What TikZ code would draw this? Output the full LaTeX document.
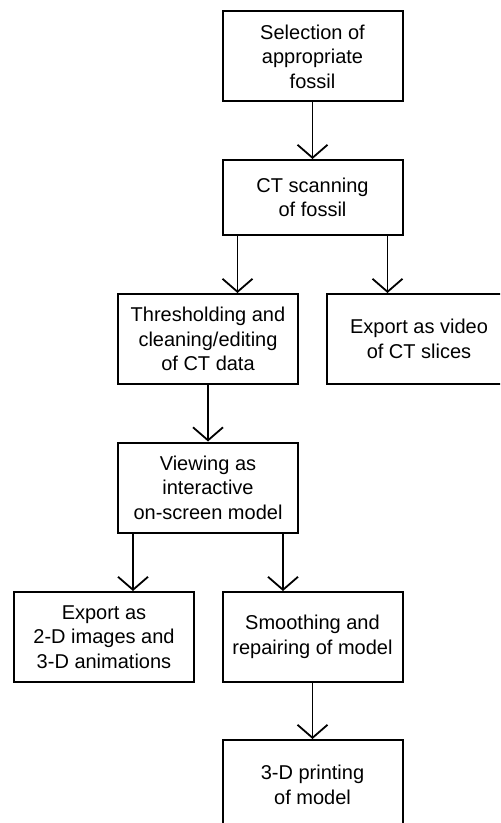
\documentclass[tikz,border=0pt]{standalone}
\usepackage{fontspec}
\setmainfont{Liberation Sans}
\usetikzlibrary{arrows.meta}

\begin{document}
\begin{tikzpicture}[>={Straight Barb[length=6.5pt,width=15pt]}]
    \tikzstyle{stage}=[rectangle,draw=black,line width=1pt,minimum width=90pt,minimum height=45pt,inner sep=0pt,align=center,font=\fontsize{10}{12.25}\selectfont]

    \useasboundingbox (0,0) rectangle (250pt,-411.5pt);
    \clip (0,0) rectangle (250pt,-411.5pt);

    \node[stage] (select) at (156.25pt,-28.25pt) {Selection of\\appropriate\\fossil};
    \node[stage,node distance=70.5pt,below of=select,minimum height=37.5pt] (scan) {CT scanning\\of fossil};
    \node[stage,node distance=70.75pt,below of=scan,xshift=-52.25pt] (thresh) {Thresholding and\\cleaning/editing\\of CT data};
    \node[stage,node distance=105.5pt,right of=thresh,minimum width=92pt] (video) {Export as video\\of CT slices};
    \node[stage,node distance=74.25pt,below of=thresh] (view) {Viewing as\\interactive\\on-screen model};
    \node[stage,node distance=74.75pt,below of=view,xshift=-52pt] (still2d) {Export as\\2-D images and\\3-D animations};
    \node[stage,node distance=104.25pt,right of=still2d] (smooth) {Smoothing and\\repairing of model};
    \node[stage,node distance=74pt,below of=smooth] (print) {3-D printing\\of model};

    \path[->,line width=0.9pt]
    (select) edge (scan)
    ([xshift=-37.5pt]scan.south) edge ([xshift=14.75pt]thresh.north)
    ([xshift=37.5pt]scan.south) edge ([xshift=-15.75pt]video.north)
    (thresh) edge (view)
    ([xshift=-37.5pt]view.south) edge ([xshift=14.5pt]still2d.north)
    ([xshift=37.5pt]view.south) edge ([xshift=-14.75pt]smooth.north)
    (smooth) edge (print);
  \end{tikzpicture}
\end{document}
